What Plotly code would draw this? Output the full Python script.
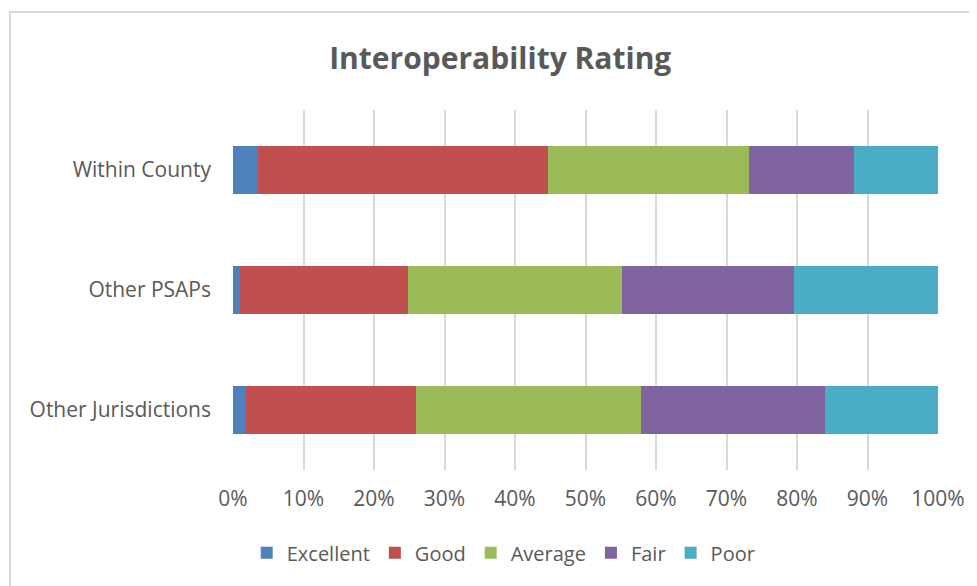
import plotly.graph_objects as go

# Data (percent of responses)
categories = ["Other Jurisdictions", "Other PSAPs", "Within County"]
ratings = ["Excellent", "Good", "Average", "Fair", "Poor"]
excellent = [1.8, 1.0, 3.55]
good = [24.15, 23.8, 41.1]
average = [31.95, 30.4, 28.5]
fair = [26.05, 24.4, 14.9]
poor = [16.05, 20.4, 11.95]
tick_vals = [0, 10, 20, 30, 40, 50, 60, 70, 80, 90, 100]
tick_text = [f"{v}%" for v in tick_vals]

colors = ["#4F81BD", "#C0504D", "#9BBB59", "#8064A2", "#4BACC6"]
series = [excellent, good, average, fair, poor]

fig = go.Figure()
for name, vals, col in zip(ratings, series, colors):
    fig.add_trace(go.Bar(
        y=categories, x=vals, name=name, orientation="h",
        marker=dict(color=col, line=dict(width=0)),
    ))

fig.update_layout(
    barmode="stack",
    bargap=0.6,
    width=969, height=578,
    margin=dict(l=225, r=39, t=102, b=116),
    paper_bgcolor="white",
    plot_bgcolor="white",
    font=dict(family="Open Sans", color="#595959", size=21),
    title=dict(text="<b>Interoperability Rating</b>", x=0.508, xanchor="center",
               y=0.913, yanchor="middle",
               font=dict(family="Open Sans", size=30, color="#595959")),
    legend=dict(orientation="h", x=0.384, xanchor="center", y=-0.23, yanchor="middle",
                font=dict(size=20, color="#595959"), traceorder="normal",
                itemwidth=30, tracegroupgap=0),
    xaxis=dict(range=[0, 100], tickvals=tick_vals, ticktext=tick_text,
               showgrid=True, gridcolor="#D9D9D9", gridwidth=1.5,
               zeroline=False, showline=False, ticks="",
               ticklabelstandoff=14, fixedrange=True),
    yaxis=dict(showgrid=False, zeroline=False, showline=False, ticks="",
               ticklabelstandoff=21, fixedrange=True),
    shapes=[dict(type="rect", xref="paper", yref="paper",
                 x0=-0.3163, x1=1.06, y0=-0.34, y1=1.272,
                 line=dict(color="#D9D9D9", width=2), layer="below")],
)

fig.write_html("out.html")
